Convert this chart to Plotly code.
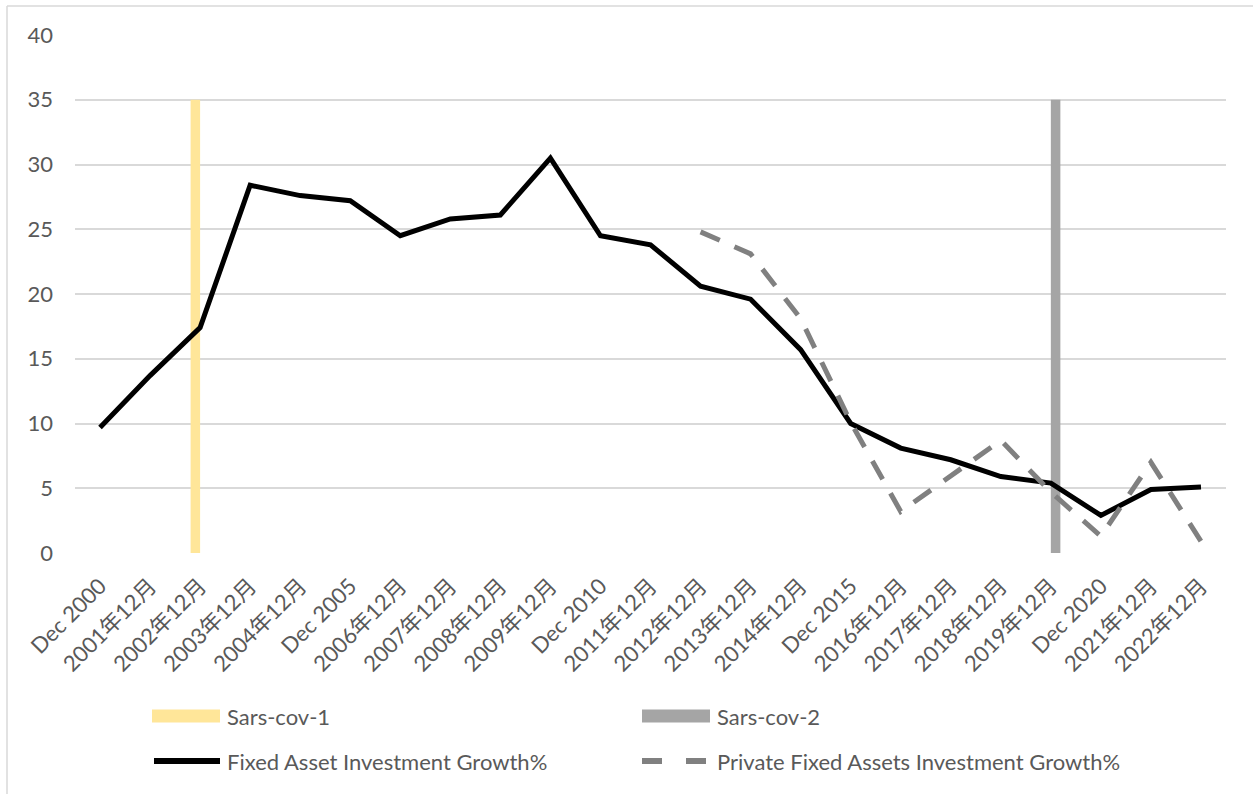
import plotly.graph_objects as go

# Period labels on the category axis
periods = [
    "Dec 2000", "2001年12月", "2002年12月", "2003年12月", "2004年12月",
    "Dec 2005", "2006年12月", "2007年12月", "2008年12月", "2009年12月",
    "Dec 2010", "2011年12月", "2012年12月", "2013年12月", "2014年12月",
    "Dec 2015", "2016年12月", "2017年12月", "2018年12月", "2019年12月",
    "Dec 2020", "2021年12月", "2022年12月",
]

# Year-on-year growth, %
fixed_asset_growth = [
    9.7, 13.7, 17.4, 28.4, 27.6, 27.2, 24.5, 25.8, 26.1, 30.5,
    24.5, 23.8, 20.6, 19.6, 15.7, 10.0, 8.1, 7.2, 5.9, 5.4,
    2.9, 4.9, 5.1,
]
private_fixed_asset_growth = [
    None, None, None, None, None, None, None, None, None, None,
    None, None, 24.8, 23.1, 18.1, 10.1, 3.2, 6.0, 8.7, 4.7,
    1.3, 7.0, 0.9,
]

# Outbreak markers (bar height)
sars_cov_1 = [None, None, 35] + [None] * 20
sars_cov_2 = [None] * 19 + [35, None, None, None]

series_names = [
    "Sars-cov-1", "Sars-cov-2",
    "Fixed Asset Investment Growth%", "Private Fixed Assets Investment Growth%",
]

YELLOW = "#FFE699"
GREY_BAR = "#A5A5A5"
BLACK = "#000000"
GREY_LINE = "#808080"
TEXT = "#595959"
GRID = "#D9D9D9"
FONT = "Lato, 'Noto Sans CJK SC', sans-serif"
FS = 22

W, H = 1253, 794
ML, MR, MT, MB = 75, 27, 35, 241
PW = W - ML - MR
PH = H - MT - MB


def px(x):
    return (x - ML) / PW


def py(y):
    return (H - MB - y) / PH


fig = go.Figure()
fig.add_trace(go.Bar(x=periods, y=sars_cov_1, name=series_names[0],
                     marker=dict(color=YELLOW, line=dict(width=0)), showlegend=False))
fig.add_trace(go.Bar(x=periods, y=sars_cov_2, name=series_names[1],
                     marker=dict(color=GREY_BAR, line=dict(width=0)), showlegend=False))
fig.add_trace(go.Scatter(x=periods, y=fixed_asset_growth, name=series_names[2],
                         mode="lines", line=dict(color=BLACK, width=5),
                         showlegend=False))
fig.add_trace(go.Scatter(x=periods, y=private_fixed_asset_growth, name=series_names[3],
                         mode="lines", line=dict(color=GREY_LINE, width=5, dash="21px,16px"),
                         connectgaps=False, showlegend=False))

shapes = []
annotations = []

# Legend: two rows of two entries
legend_cols = [152, 642]
legend_rows = [716, 761]
swatch_len = 68
entries = [
    (series_names[0], "rect", YELLOW, None),
    (series_names[1], "rect", GREY_BAR, None),
    (series_names[2], "line", BLACK, "solid"),
    (series_names[3], "line", GREY_LINE, "dash"),
]
for i, (name, kind, color, dash) in enumerate(entries):
    x0 = legend_cols[i % 2]
    yc = legend_rows[i // 2]
    if kind == "rect":
        shapes.append(dict(type="rect", xref="paper", yref="paper",
                           x0=px(x0), x1=px(x0 + swatch_len),
                           y0=py(yc + 6.5), y1=py(yc - 6.5),
                           fillcolor=color, line=dict(width=0)))
    elif dash == "solid":
        shapes.append(dict(type="line", xref="paper", yref="paper",
                           x0=px(x0 + 2), x1=px(x0 + swatch_len),
                           y0=py(yc), y1=py(yc),
                           line=dict(color=color, width=6)))
    else:
        for seg in [(x0, x0 + 20), (x0 + 44, x0 + 64)]:
            shapes.append(dict(type="line", xref="paper", yref="paper",
                               x0=px(seg[0]), x1=px(seg[1]),
                               y0=py(yc), y1=py(yc),
                               line=dict(color=color, width=6)))
    annotations.append(dict(text=name, xref="paper", yref="paper",
                            x=px(x0 + swatch_len + 5), y=py(yc),
                            xanchor="left", yanchor="middle", showarrow=False,
                            font=dict(family=FONT, size=FS, color=TEXT)))

# Chart area border (top and left edges)
shapes.append(dict(type="line", xref="paper", yref="paper",
                   x0=px(7), x1=px(W + 5), y0=py(6), y1=py(6),
                   line=dict(color=GRID, width=1.5)))
shapes.append(dict(type="line", xref="paper", yref="paper",
                   x0=px(7), x1=px(7), y0=py(6), y1=py(H + 5),
                   line=dict(color=GRID, width=1.5)))

fig.update_layout(
    width=W, height=H,
    margin=dict(l=ML, r=MR, t=MT, b=MB),
    paper_bgcolor="white", plot_bgcolor="white",
    barmode="group", bargap=0.62, bargroupgap=0,
    font=dict(family=FONT, size=FS, color=TEXT),
    shapes=shapes, annotations=annotations,
    showlegend=False,
)
fig.update_xaxes(
    type="category", tickangle=-45, showgrid=False, zeroline=False,
    showline=False, ticks="", ticklabelstandoff=15,
    tickfont=dict(family=FONT, size=FS, color=TEXT),
)
fig.update_yaxes(
    range=[0, 40], dtick=5, showgrid=True, gridcolor=GRID, gridwidth=1.5,
    zeroline=False, showline=False, ticks="", ticklabelstandoff=21,
    tickfont=dict(family=FONT, size=FS, color=TEXT),
)

fig.write_html("out.html")
